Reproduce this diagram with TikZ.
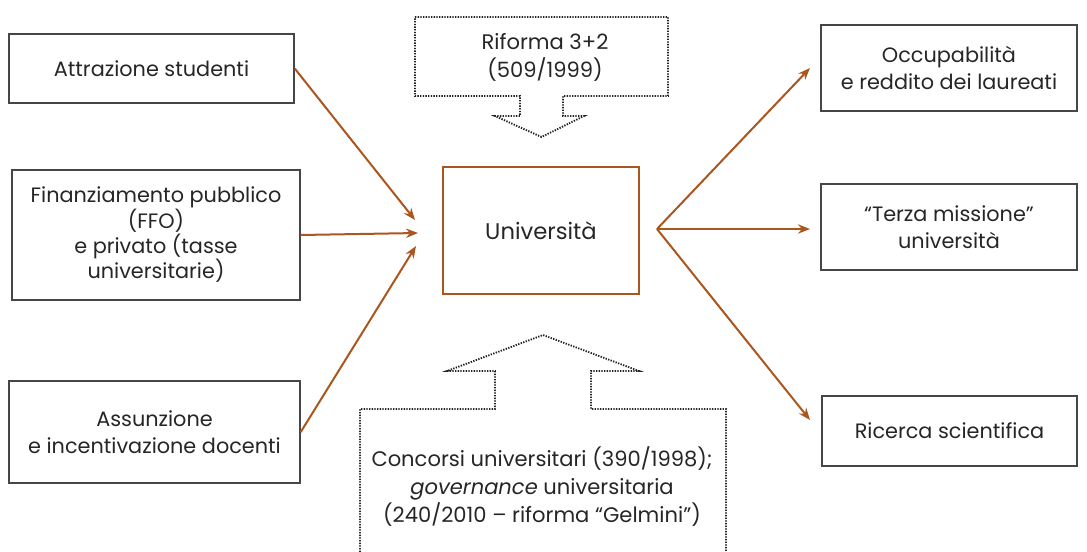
\documentclass[tikz,border=0pt]{standalone}
\usepackage{fontspec}
\setmainfont{Poppins}
\usetikzlibrary{arrows.meta}
\definecolor{uniBrown}{RGB}{170, 86, 30}
\definecolor{boxGray}{RGB}{70, 70, 70}
\definecolor{dotGray}{RGB}{35, 35, 35}
\tikzset{
  box/.style={draw=boxGray, line width=1.1pt, align=center, inner sep=0pt,
    font=\fontsize{15.6}{20.5}\selectfont, text=black!85},
  unibox/.style={box, draw=uniBrown, line width=1.5pt, font=\fontsize{17}{20}\selectfont},
  note/.style={align=center, inner sep=0pt, font=\fontsize{15.8}{21}\selectfont, text=black!85},
  flow/.style={draw=uniBrown, line width=1.5pt, -{Stealth[length=9pt,width=7pt]}},
  dotshape/.style={draw=dotGray, line width=1.4pt, dash pattern=on 1pt off 1pt},
}

\begin{document}
\begin{tikzpicture}[x=0.75pt, y=-0.75pt]
    \useasboundingbox (0,0) rectangle (1087,552);
    % left boxes
    \node[box, minimum width=213.75pt, minimum height=51.75pt] (attr) at (151.5,68.5) {Attrazione studenti};
    \node[box, font=\fontsize{15.6}{19}\selectfont, minimum width=216pt, minimum height=97.5pt] (fin) at (156,235) {Finanziamento pubblico\\(FFO)\\e privato (tasse\\universitarie)};
    \node[box, minimum width=218.25pt, minimum height=76.5pt] (ass) at (154.5,432) {Assunzione\\e incentivazione docenti};
    % centre
    \node[unibox, minimum width=147pt, minimum height=95.25pt] (uni) at (541,230.5) {Università};
    % right boxes
    \node[box, minimum width=192pt, minimum height=64.5pt] (occ) at (949,68) {Occupabilità\\e reddito dei laureati};
    \node[box, minimum width=192pt, minimum height=64.5pt] (terza) at (949,227) {``Terza missione''\\università};
    \node[box, minimum width=191.25pt, minimum height=52.5pt] (ric) at (949.5,431) {Ricerca scientifica};

    % dotted block arrows
    \draw[dotshape] (415,17) -- (668,17) -- (668,96) -- (563,96) -- (563,116) -- (584,116)
      -- (541.5,137) -- (495,116) -- (520,116) -- (520,96) -- (415,96) -- cycle;
    \node[note] (riforma) at (545,57) {Riforma 3+2\\ (509/1999)};
    \draw[dotshape] (360,552) -- (360,409) -- (495,409) -- (495,371) -- (447,371) -- (543,335)
      -- (639,371) -- (591,371) -- (591,409) -- (726,409) -- (726,552);
    \node[note] (concorsi) at (542,487) {Concorsi universitari (390/1998);\\\textit{governance} universitaria\\(240/2010 -- riforma ``Gelmini'')};

    % arrows in
    \coordinate (in1) at (415,220);
    \coordinate (in2) at (418,233);
    \coordinate (in3) at (416,246);
    \draw[flow] (attr.east) -- (in1);
    \draw[flow] (fin.east) -- (in2);
    \draw[flow] (ass.east) -- (in3);

    % arrows out
    \coordinate (out) at (657,229);
    \coordinate (to1) at (810,68);
    \coordinate (to2) at (810,229);
    \coordinate (to3) at (810,420);
    \draw[flow] (out) -- (to1);
    \draw[flow] (out) -- (to2);
    \draw[flow] (out) -- (to3);
\end{tikzpicture}
\end{document}
